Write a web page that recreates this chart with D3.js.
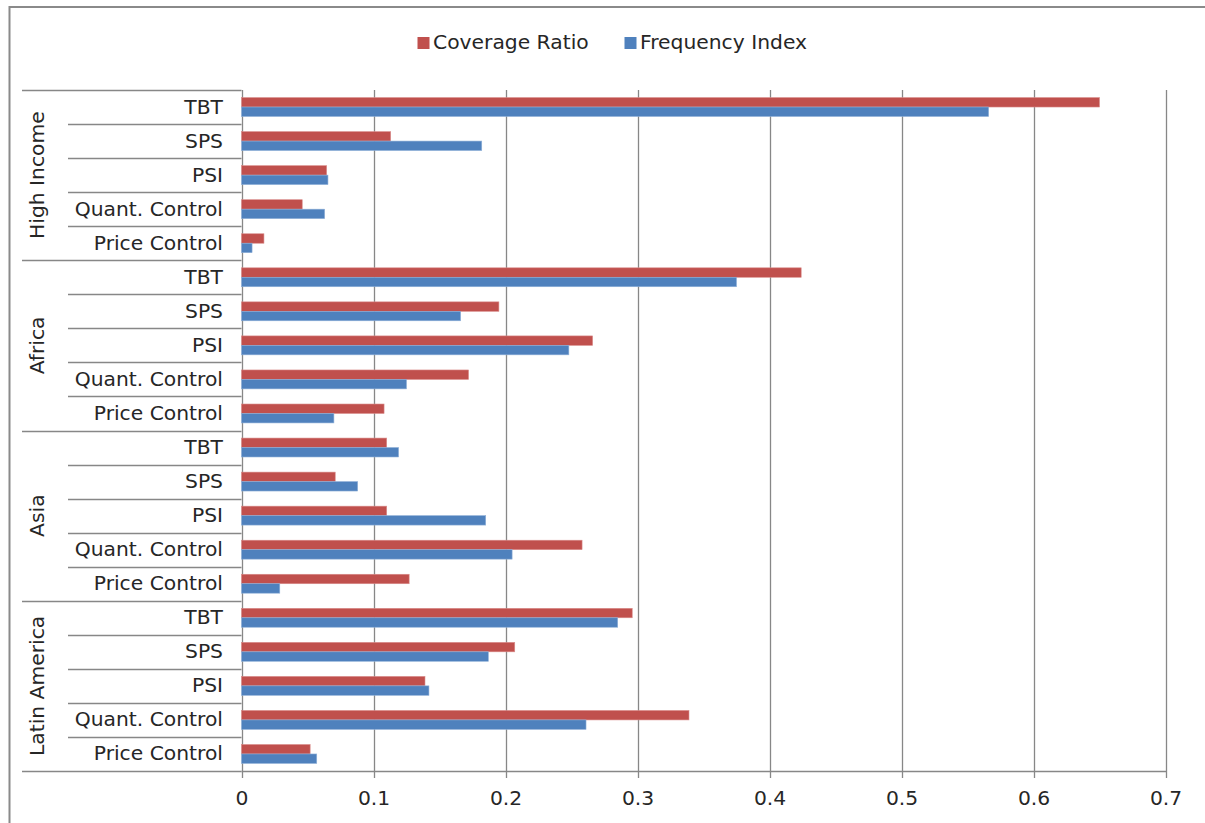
<!DOCTYPE html>
<html><head><meta charset="utf-8">
<script src="https://cdn.jsdelivr.net/npm/d3@7"></script>
<style>
html,body{margin:0;padding:0;background:#fff;}
svg{display:block;font-family:"DejaVu Sans",Verdana,sans-serif;}
</style></head>
<body>
<svg id="chart" width="1205" height="823"></svg>
<script>
const regions = ["High Income", "Africa", "Asia", "Latin America"];
const measures = ["TBT", "SPS", "PSI", "Quant. Control", "Price Control"];
const seriesNames = ["Coverage Ratio", "Frequency Index"];
// values per region, in measure order
const coverageRatio = [
  [0.650, 0.113, 0.0645, 0.046, 0.017],
  [0.424, 0.195, 0.266, 0.172, 0.108],
  [0.110, 0.071, 0.110, 0.258, 0.127],
  [0.296, 0.207, 0.139, 0.339, 0.052]
];
const frequencyIndex = [
  [0.566, 0.182, 0.0655, 0.063, 0.008],
  [0.375, 0.166, 0.248, 0.125, 0.070],
  [0.119, 0.088, 0.185, 0.205, 0.029],
  [0.285, 0.187, 0.142, 0.261, 0.057]
];
const xTicks = [0, 0.1, 0.2, 0.3, 0.4, 0.5, 0.6, 0.7];
const colors = ["#C0504D", "#4F81BD"];

const rows = [];
regions.forEach((r, ri) => measures.forEach((m, mi) => {
  rows.push({key: r + "|" + m, region: r, measure: m, values: [coverageRatio[ri][mi], frequencyIndex[ri][mi]]});
}));

const svg = d3.select("#chart");
const L = 241.5, R = 1165.5, T = 90, B = 771;
const gridColor = "#878787";
const textColor = "#262626";
const fs = "20.3px";

// frame
svg.append("rect").attr("x", 9.5).attr("y", 7).attr("width", 1200).attr("height", 840)
  .attr("fill", "none").attr("stroke", "#8a8a8a").attr("stroke-width", 2);

const x = d3.scaleLinear().domain([0, 0.7]).range([L, R]);
const y = d3.scaleBand().domain(rows.map(d => d.key)).range([T, B]).padding(0);
const ys = d3.scaleBand().domain(seriesNames).range([0, y.bandwidth()]).paddingOuter(0.8).paddingInner(0);

// vertical gridlines
svg.append("g").selectAll("line").data(xTicks).join("line")
  .attr("x1", d => Math.round(x(d)) + 0.5).attr("x2", d => Math.round(x(d)) + 0.5)
  .attr("y1", T).attr("y2", B + 7)
  .attr("stroke", gridColor).attr("stroke-width", 1.3);

// x axis
const xAxis = d3.axisBottom(x).tickValues(xTicks).tickFormat(d => d === 0 ? "0" : d3.format(".1f")(d)).tickSize(0).tickPadding(20);
const gx = svg.append("g").attr("transform", `translate(0,${B})`).call(xAxis);
gx.select(".domain").remove();
gx.selectAll("text").attr("font-size", fs).attr("fill", textColor).attr("font-family", "DejaVu Sans, Verdana, sans-serif");

// bottom axis line
svg.append("line").attr("x1", L).attr("x2", R + 1).attr("y1", B + 0.5).attr("y2", B + 0.5)
  .attr("stroke", gridColor).attr("stroke-width", 1.3);

// row separator lines in category area
const sepKeys = rows.map((d, i) => ({y: y(d.key), group: i % measures.length === 0}));
sepKeys.push({y: B, group: true});
svg.append("g").selectAll("line").data(sepKeys).join("line")
  .attr("x1", d => d.group ? 22 : 68).attr("x2", L)
  .attr("y1", d => Math.round(d.y) + 0.5).attr("y2", d => Math.round(d.y) + 0.5)
  .attr("stroke", gridColor).attr("stroke-width", 1.3);

// bars
const rowG = svg.append("g").selectAll("g").data(rows).join("g")
  .attr("transform", d => `translate(0,${y(d.key)})`);
rowG.selectAll("rect").data(d => d.values.map((v, i) => ({v, s: seriesNames[i], i}))).join("rect")
  .attr("x", x(0))
  .attr("y", d => ys(d.s))
  .attr("width", d => x(d.v) - x(0))
  .attr("height", ys.bandwidth())
  .attr("fill", d => colors[d.i])
  .attr("stroke", d => d.i === 0 ? "#d98c8a" : "#8fb0d8")
  .attr("stroke-width", 0.6);

// measure labels
rowG.append("text")
  .attr("x", 223).attr("y", y.bandwidth() / 2 + 1)
  .attr("text-anchor", "end").attr("dominant-baseline", "middle")
  .attr("font-size", fs).attr("fill", textColor)
  .text(d => d.measure);

// region labels
svg.append("g").selectAll("text").data(regions).join("text")
  .attr("transform", (r, i) => {
    const y0 = y(rows[i * measures.length].key);
    const y1 = y(rows[i * measures.length + measures.length - 1].key) + y.bandwidth();
    return `translate(38,${(y0 + y1) / 2}) rotate(-90)`;
  })
  .attr("text-anchor", "middle").attr("dominant-baseline", "middle")
  .attr("font-size", fs).attr("fill", textColor)
  .text(d => d);

// legend
const legendItems = [{name: seriesNames[0], color: colors[0], x: 417.5}, {name: seriesNames[1], color: colors[1], x: 624.5}];
const lg = svg.append("g").selectAll("g").data(legendItems).join("g")
  .attr("transform", d => `translate(${d.x},37)`);
lg.append("rect").attr("width", 12).attr("height", 12).attr("fill", d => d.color);
lg.append("text").attr("x", 15.5).attr("y", 6.5).attr("dominant-baseline", "middle")
  .attr("font-size", fs).attr("fill", textColor).text(d => d.name);
</script>
</body></html>
